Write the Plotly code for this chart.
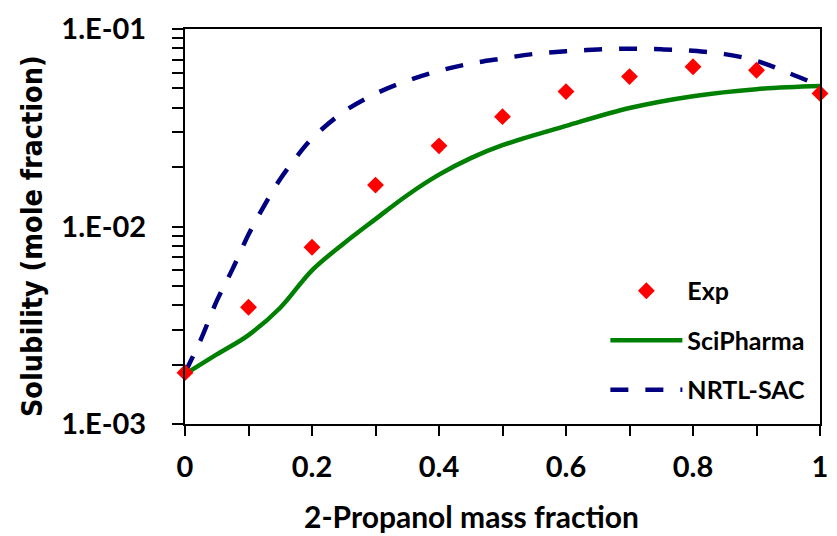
import plotly.graph_objects as go

# ---- data ----
exp_x = [0, 0.1, 0.2, 0.3, 0.4, 0.5, 0.6, 0.7, 0.8, 0.9, 1.0]
exp_y = [1.82e-3, 3.90e-3, 7.85e-3, 1.62e-2, 2.56e-2, 3.60e-2, 4.82e-2, 5.74e-2, 6.44e-2, 6.18e-2, 4.72e-2]

sci_x = [0, 0.05, 0.1, 0.15, 0.2, 0.25, 0.3, 0.35, 0.4, 0.45, 0.5, 0.6, 0.7, 0.8, 0.9, 1.0]
sci_y = [1.79e-3, 2.25e-3, 2.82e-3, 3.88e-3, 6.0e-3, 8.2e-3, 1.09e-2, 1.44e-2, 1.83e-2, 2.22e-2,
         2.58e-2, 3.23e-2, 3.98e-2, 4.57e-2, 4.96e-2, 5.14e-2]

nrtl_x = [0, 0.025, 0.05, 0.075, 0.1, 0.125, 0.15, 0.175, 0.2, 0.25, 0.3, 0.35, 0.4, 0.45, 0.5,
          0.55, 0.6, 0.65, 0.7, 0.75, 0.8, 0.85, 0.9, 0.95, 1.0]
nrtl_y = [1.82e-3, 2.68e-3, 4.2e-3, 6.1e-3, 9.1e-3, 1.28e-2, 1.74e-2, 2.24e-2, 2.79e-2, 3.81e-2,
          4.70e-2, 5.47e-2, 6.14e-2, 6.68e-2, 7.09e-2, 7.48e-2, 7.72e-2, 7.87e-2, 7.95e-2, 7.89e-2,
          7.75e-2, 7.46e-2, 6.90e-2, 6.0e-2, 5.16e-2]

x_tickvals = [0, 0.2, 0.4, 0.6, 0.8, 1.0]
x_ticktext = ["0", "0.2", "0.4", "0.6", "0.8", "1"]
y_tickvals = [1e-3, 1e-2, 1e-1]
y_ticktext = ["1.E-03", "1.E-02", "1.E-01"]
y_minor = [k * 10.0 ** e for e in (-3, -2) for k in range(2, 10)]
x_minor = [0.1, 0.3, 0.5, 0.7, 0.9]

LABEL_FONT = dict(family="Lato", size=29, color="black", weight="bold")

fig = go.Figure()
fig.add_trace(go.Scatter(
    x=sci_x, y=sci_y, mode="lines", name="SciPharma", legendrank=2, legendgroup="b",
    line=dict(color="#008000", width=4.5, shape="spline"),
))
fig.add_trace(go.Scatter(
    x=nrtl_x, y=nrtl_y, mode="lines", name="NRTL-SAC", legendrank=3, legendgroup="c",
    line=dict(color="#000080", width=4.5, shape="spline", dash="18px,17px"),
))
fig.add_trace(go.Scatter(
    x=exp_x, y=exp_y, mode="markers", name="Exp", legendrank=1, legendgroup="a",
    marker=dict(symbol="diamond", color="#FF0000", size=13, line=dict(width=0)),
    cliponaxis=False,
))

fig.update_layout(
    width=837, height=536,
    margin=dict(l=185, r=9, t=29, b=112),
    paper_bgcolor="white", plot_bgcolor="white",
    showlegend=True,
    legend=dict(
        x=0.662, y=0.395, xanchor="left", yanchor="top",
        font=dict(family="Lato", size=25, color="black", weight="bold"),
        bgcolor="rgba(0,0,0,0)", itemwidth=72, tracegroupgap=14,
    ),
    annotations=[
        dict(text="Solubility (mole fraction)", xref="paper", yref="paper",
             x=-0.24, y=0.4747, xanchor="center", yanchor="middle", textangle=-90,
             showarrow=False,
             font=dict(family="DejaVu Sans Condensed", size=28.5, color="black", weight="bold")),
        dict(text="2-Propanol mass fraction", xref="paper", yref="paper",
             x=(303 - 185) / 643, y=-0.232, xanchor="left", yanchor="middle",
             showarrow=False,
             font=dict(family="Lato", size=30, color="black", weight="bold")),
    ],
)

fig.update_xaxes(
    range=[0, 1], tickvals=x_tickvals, ticktext=x_ticktext,
    ticks="outside", ticklen=10, tickwidth=1.5, tickcolor="black",
    showline=True, linecolor="black", linewidth=2, mirror=True,
    showgrid=False, zeroline=False, tickfont=LABEL_FONT, ticklabelstandoff=6,
    minor=dict(tickvals=x_minor, ticks="outside", ticklen=10, tickwidth=1.5, tickcolor="black", showgrid=False),
)
fig.update_yaxes(
    type="log", range=[-3, -1], tickvals=y_tickvals, ticktext=y_ticktext,
    ticks="outside", ticklen=11, tickwidth=1.5, tickcolor="black",
    showline=True, linecolor="black", linewidth=2, mirror=True,
    showgrid=False, zeroline=False, tickfont=LABEL_FONT, ticklabelstandoff=20,
    minor=dict(tickvals=y_minor, ticks="outside", ticklen=11, tickwidth=1.5, tickcolor="black", showgrid=False),
)

fig.write_html("out.html", config={"displayModeBar": False},
               post_script="document.body.style.margin='0';")
